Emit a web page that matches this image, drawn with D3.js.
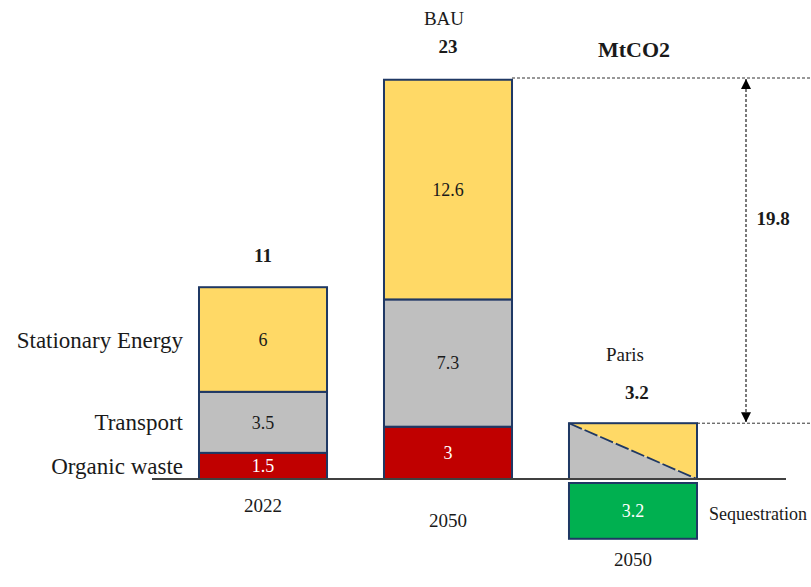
<!DOCTYPE html>
<html>
<head>
<meta charset="utf-8">
<script src="https://cdn.jsdelivr.net/npm/d3@7"></script>
<style>
  html, body { margin: 0; padding: 0; background: #fff; }
  svg text { font-family: "Liberation Serif", "Times New Roman", Times, serif; }
</style>
</head>
<body>
<svg id="chart" width="811" height="587"></svg>
<script>
// Emission sources (stack order bottom → top)
const sectors = ["Organic waste", "Transport", "Stationary Energy"];
const sectorColors = ["#C00000", "#BFBFBF", "#FFD966"];
const sectorTextColors = ["#ffffff", "#1a1a1a", "#1a1a1a"];

// Columns: 2022 inventory, 2050 business-as-usual
const columns = ["2022", "BAU"];
const columnYears = ["2022", "2050"];
const columnTitles = ["", "BAU"];
const organicWaste = [1.5, 3];
const transport = [3.5, 7.3];
const stationaryEnergy = [6, 12.6];
const totals = [11, 23];

// 2050 Paris-aligned pathway
const parisTotal = 3.2;
const sequestration = 3.2;
const unitLabel = "MtCO2";

const FONT = "'Liberation Serif', 'Times New Roman', Times, serif";
const svg = d3.select("#chart").attr("font-family", FONT);
const baseY = 479;

const y = d3.scaleLinear().domain([0, 23]).range([baseY, 78]);
const hgt = v => y(0) - y(v);

const x = d3.scaleBand()
  .domain(["2022", "BAU", "Paris"])
  .range([143.5, 752.5])
  .paddingInner(0.308)
  .paddingOuter(0.3);

const bw = x.bandwidth();
const outline = "#1F3864";

function label(sel, opts) {
  return sel.append("text")
    .attr("font-family", FONT)
    .attr("x", opts.x).attr("y", opts.y)
    .attr("dy", "0.35em")
    .attr("text-anchor", opts.anchor || "middle")
    .attr("font-size", opts.size || 18)
    .attr("font-weight", opts.bold ? "bold" : "normal")
    .attr("fill", opts.fill || "#1a1a1a")
    .text(opts.text);
}

// stacked segments for 2022 and BAU
const rows = columns.map((c, i) => ({ col: c, vals: [organicWaste[i], transport[i], stationaryEnergy[i]] }));
const stack = svg.append("g");
rows.forEach((r, ci) => {
  let acc = 0;
  r.vals.forEach((v, si) => {
    const y0 = acc, y1 = acc + v;
    acc = y1;
    stack.append("rect")
      .attr("x", x(r.col))
      .attr("y", y(y1))
      .attr("width", bw)
      .attr("height", y(y0) - y(y1))
      .attr("fill", sectorColors[si])
      .attr("stroke", outline)
      .attr("stroke-width", 2);
    label(stack, { x: x(r.col) + bw / 2, y: (y(y0) + y(y1)) / 2, size: 18, fill: sectorTextColors[si], text: v });
  });
  label(stack, { x: x(r.col) + bw / 2, y: y(totals[ci]) - 32, size: 19, bold: true, text: totals[ci] });
  if (columnTitles[ci]) {
    label(stack, { x: x(r.col) + bw / 2 - 4, y: y(totals[ci]) - 60, size: 19, text: columnTitles[ci] });
  }
});

// sector labels to the left of the 2022 column
let acc0 = 0;
rows[0].vals.forEach((v, si) => {
  const mid = (y(acc0) + y(acc0 + v)) / 2;
  acc0 += v;
  label(svg, { x: 183, y: mid, anchor: "end", size: 23, text: sectors[si] });
});

// Paris column: split diagonally between transport and stationary energy
const px = x("Paris");
const pTop = y(parisTotal);
const pBot = y(0);
svg.append("path")
  .attr("d", `M${px},${pTop} L${px},${pBot} L${px + bw},${pBot} Z`)
  .attr("fill", sectorColors[1]);
svg.append("path")
  .attr("d", `M${px},${pTop} L${px + bw},${pTop} L${px + bw},${pBot} Z`)
  .attr("fill", sectorColors[2]);
svg.append("line")
  .attr("x1", px).attr("y1", pTop)
  .attr("x2", px + bw).attr("y2", pBot)
  .attr("stroke", outline)
  .attr("stroke-width", 1.8)
  .attr("stroke-dasharray", "14,3");
svg.append("rect")
  .attr("x", px).attr("y", pTop)
  .attr("width", bw).attr("height", hgt(parisTotal))
  .attr("fill", "none")
  .attr("stroke", outline)
  .attr("stroke-width", 2);
label(svg, { x: px + bw / 2 + 4, y: pTop - 31, size: 19, bold: true, text: parisTotal });
label(svg, { x: px + bw / 2 - 8, y: pTop - 69, size: 19, text: "Paris" });

// sequestration below the axis
const gap = 4;
const seqTop = y(0) + gap;
const seqH = hgt(sequestration);
svg.append("rect")
  .attr("x", px).attr("y", seqTop)
  .attr("width", bw).attr("height", seqH)
  .attr("fill", "#00B050")
  .attr("stroke", outline)
  .attr("stroke-width", 2);
label(svg, { x: px + bw / 2, y: seqTop + 28, size: 18, fill: "#ffffff", text: sequestration });
label(svg, { x: px + bw + 12, y: seqTop + 31, anchor: "start", size: 18, text: "Sequestration" });

// baseline
svg.append("line")
  .attr("x1", 152).attr("x2", 786)
  .attr("y1", baseY).attr("y2", baseY)
  .attr("stroke", "#404040")
  .attr("stroke-width", 2.2);

// year labels
label(svg, { x: x("2022") + bw / 2, y: baseY + 26, size: 19, text: columnYears[0] });
label(svg, { x: x("BAU") + bw / 2, y: baseY + 41, size: 19, text: columnYears[1] });
label(svg, { x: px + bw / 2, y: seqTop + seqH + 21, size: 19, text: "2050" });

// unit label
label(svg, { x: 634, y: 49, size: 22, bold: true, text: unitLabel });

// reduction gap annotation between BAU and Paris totals
const bauTop = y(totals[1]);
const guideEnd = 810;
svg.append("line")
  .attr("x1", x("BAU") + bw).attr("x2", guideEnd)
  .attr("y1", bauTop).attr("y2", bauTop)
  .attr("stroke", "#333").attr("stroke-width", 1)
  .attr("stroke-dasharray", "3,2");
svg.append("line")
  .attr("x1", px + bw).attr("x2", guideEnd)
  .attr("y1", pTop).attr("y2", pTop)
  .attr("stroke", "#333").attr("stroke-width", 1)
  .attr("stroke-dasharray", "3,2");

const defs = svg.append("defs");
defs.append("marker")
  .attr("id", "tri")
  .attr("viewBox", "0 0 10 10")
  .attr("refX", 10).attr("refY", 5)
  .attr("markerWidth", 10).attr("markerHeight", 10)
  .attr("markerUnits", "userSpaceOnUse")
  .attr("orient", "auto-start-reverse")
  .append("path")
  .attr("d", "M0,0 L10,5 L0,10 Z")
  .attr("fill", "#000");

const ax = 746;
svg.append("line")
  .attr("x1", ax).attr("x2", ax)
  .attr("y1", bauTop + 1).attr("y2", pTop - 1)
  .attr("stroke", "#222").attr("stroke-width", 1.2)
  .attr("stroke-dasharray", "3,2")
  .attr("marker-start", "url(#tri)")
  .attr("marker-end", "url(#tri)");

const diff = +(totals[1] - parisTotal).toFixed(1);
label(svg, { x: 773, y: (bauTop + pTop) / 2 - 32, size: 19, bold: true, text: diff });
</script>
</body>
</html>
